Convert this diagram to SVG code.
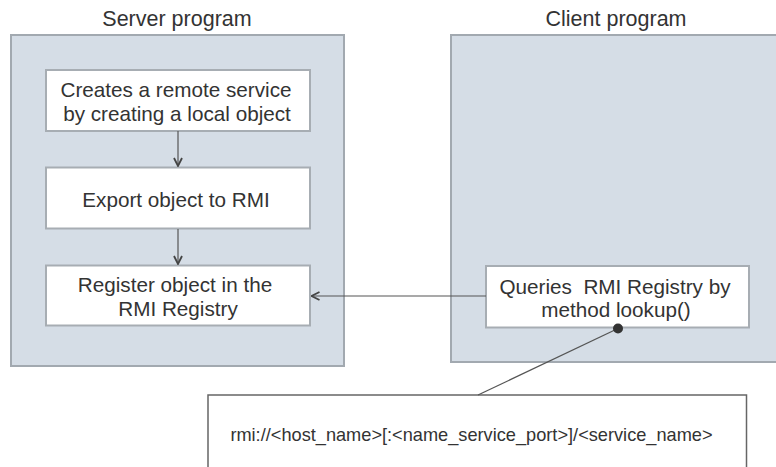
<svg xmlns="http://www.w3.org/2000/svg" width="776" height="467" viewBox="0 0 776 467">
<style>
.cont{fill:#d5dde6;stroke:#a2a9b0;stroke-width:2}
.box{fill:#ffffff;stroke:#a7adb3;stroke-width:2}
.t{font-family:"Liberation Sans",Arial,sans-serif;fill:#333333;text-anchor:middle}
.big{font-size:20.7px}
.title{font-size:21.5px}
.small{font-size:18.2px}
.conn{stroke:#555555;stroke-width:1.2;fill:none}
</style>
<defs>
<marker id="arr" viewBox="0 0 10 10" refX="9" refY="5" markerWidth="10" markerHeight="10" markerUnits="userSpaceOnUse" orient="auto">
<path d="M1,1 L9,5 L1,9" fill="none" stroke="#444444" stroke-width="1.8"/>
</marker>
</defs>
<rect width="776" height="467" fill="#ffffff"/>
<g id="server">
<rect class="cont" x="11" y="35" width="333" height="331"/>
<text class="t title" x="177" y="26">Server program</text>
</g>
<g id="client">
<rect class="cont" x="451" y="35" width="330" height="327"/>
<text class="t title" x="616" y="26">Client program</text>
</g>
<g id="create">
<rect class="box" x="46" y="70" width="264" height="61"/>
<text class="t big" x="176" y="97">Creates a remote service</text>
<text class="t big" x="177" y="120.5">by creating a local object</text>
</g>
<g id="export">
<rect class="box" x="46" y="167.5" width="264" height="61"/>
<text class="t big" x="176" y="207">Export object to RMI</text>
</g>
<g id="register">
<rect class="box" x="46" y="265.5" width="264" height="60"/>
<text class="t big" x="175" y="291.5">Register object in the</text>
<text class="t big" x="178" y="315.5">RMI Registry</text>
</g>
<g id="query">
<rect class="box" x="486" y="266" width="263" height="61.5"/>
<text class="t big" x="615" y="294" xml:space="preserve">Queries  RMI Registry by</text>
<text class="t big" x="616" y="317">method lookup()</text>
</g>
<g id="url">
<rect x="208" y="395" width="538.5" height="90" fill="#ffffff" stroke="#666666" stroke-width="1.5"/>
<text class="t small" x="471.5" y="441">rmi://&lt;host_name&gt;[:&lt;name_service_port&gt;]/&lt;service_name&gt;</text>
</g>
<g id="connectors">
<line class="conn" x1="178" y1="131" x2="178" y2="166" marker-end="url(#arr)"/>
<line class="conn" x1="178" y1="229" x2="178" y2="264" marker-end="url(#arr)"/>
<line class="conn" x1="486" y1="296" x2="311.5" y2="296" marker-end="url(#arr)"/>
<line class="conn" x1="618" y1="328.5" x2="478" y2="395"/>
<circle cx="618" cy="328.5" r="5" fill="#333333"/>
</g>
</svg>
